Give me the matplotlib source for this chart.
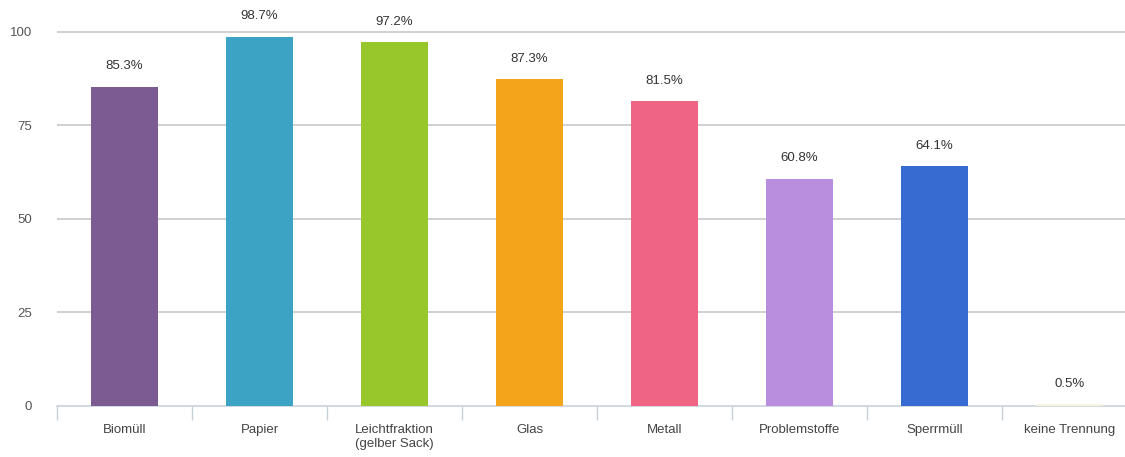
import matplotlib.pyplot as plt
import numpy as np

plt.rcParams['font.family'] = ['Liberation Sans', 'DejaVu Sans']

categories = ['Biomüll', 'Papier', 'Leichtfraktion\n(gelber Sack)', 'Glas', 'Metall',
              'Problemstoffe', 'Sperrmüll', 'keine Trennung']
values = [85.3, 98.7, 97.2, 87.3, 81.5, 60.8, 64.1, 0.5]
colors = ['#7B5B91', '#3DA3C4', '#97C72A', '#F3A41A', '#EF6384',
          '#BA8EDF', '#386BD2', '#F8F3E0']
y_ticks = [0, 25, 50, 75, 100]

fig = plt.figure(figsize=(11.25, 4.57), dpi=100)
ax = fig.add_axes([57 / 1125, 51 / 457, 1 - 57 / 1125, 404 / 457])

x = np.arange(len(categories))
ax.bar(x, values, width=0.49, color=colors, zorder=3)

# value labels above the bars
for xi, v in zip(x, values):
    ax.text(xi, v + 3.9, f'{v}%', ha='center', va='bottom', fontsize=9.5, color='#333333')

ax.set_xlim(-0.5, 7.5 - 12 / 135)
ax.set_ylim(0, 108)

# grid
ax.set_yticks(y_ticks)
ax.set_yticklabels([str(t) for t in y_ticks], fontsize=9.5, color='#555555')
for t in y_ticks[1:]:
    ax.axhline(t, color='#C8C8C8', linewidth=1.2, zorder=1)
ax.tick_params(axis='y', length=0, pad=18)

ax.set_xticks(x)
ax.set_xticklabels(categories, fontsize=9.5, color='#444444')
ax.set_xticks(np.arange(len(categories)) - 0.5, minor=True)
ax.tick_params(axis='x', which='major', length=0, pad=13)
ax.tick_params(axis='x', which='minor', length=10, color='#C8D0D8', width=1)

for s in ['top', 'right', 'left']:
    ax.spines[s].set_visible(False)
ax.spines['bottom'].set_color('#C8D3DE')
ax.spines['bottom'].set_linewidth(1.2)

fig.savefig('out.png', dpi=100)
